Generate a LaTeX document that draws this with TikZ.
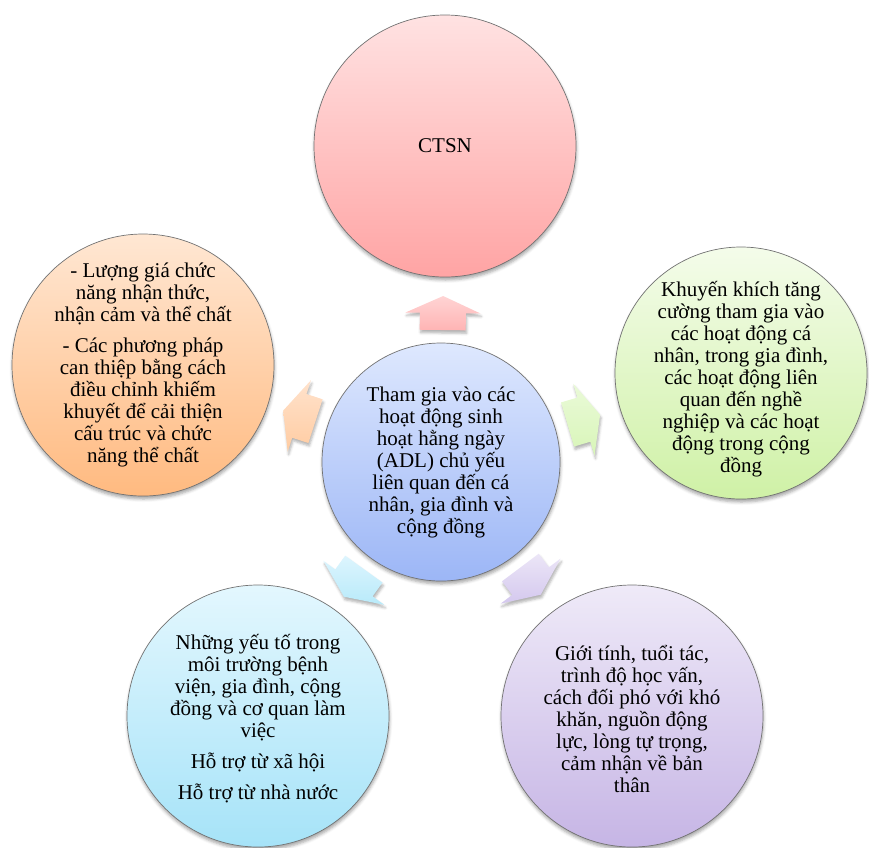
\documentclass[tikz,border=0pt]{standalone}
\usepackage{fontspec}
\setmainfont{Liberation Serif}
\usetikzlibrary{calc,shadows.blur}

% bubble fills (top / bottom of each vertical gradient)
\definecolor{pinkT}{HTML}{FFE2E2}\definecolor{pinkB}{HTML}{FFA4A4}
\definecolor{blueT}{HTML}{DEE8FE}\definecolor{blueB}{HTML}{9CB6F6}
\definecolor{greenT}{HTML}{F4FCEA}\definecolor{greenB}{HTML}{CFF1A6}
\definecolor{violetT}{HTML}{EFEAF8}\definecolor{violetB}{HTML}{C6B5E5}
\definecolor{cyanT}{HTML}{E3F7FE}\definecolor{cyanB}{HTML}{A6E3F8}
\definecolor{orangeT}{HTML}{FFE7D3}\definecolor{orangeB}{HTML}{FFBA80}
% block arrow fills
\definecolor{pinkAT}{HTML}{FFD4D4}\definecolor{pinkAB}{HTML}{FFB4B4}
\definecolor{greenAT}{HTML}{EAFAD8}\definecolor{greenAB}{HTML}{D8F5B8}
\definecolor{violetAT}{HTML}{ECE6F7}\definecolor{violetAB}{HTML}{D4C8EE}
\definecolor{cyanAT}{HTML}{DDF5FE}\definecolor{cyanAB}{HTML}{B8EAFA}
\definecolor{orangeAT}{HTML}{FFE2CC}\definecolor{orangeAB}{HTML}{FFCCA2}

\tikzset{
  bubble/.style n args={3}{circle, minimum size=#1, inner sep=0pt,
    draw=black!55, line width=0.7pt, top color=#2, bottom color=#3,
    blur shadow={shadow xshift=0.5pt, shadow yshift=-3pt,
                 shadow blur radius=3pt, shadow opacity=35}},
  txt/.style={align=center, inner sep=0pt,
    font=\fontsize{21}{22}\selectfont},
  blockarrow/.style 2 args={top color=#1, bottom color=#2,
    blur shadow={shadow xshift=1pt, shadow yshift=-3pt,
                 shadow blur radius=2.5pt, shadow opacity=30}}
}

% outward block arrow from #1 toward #2, colours #3/#4
\newcommand\radarrow[4]{%
  \path[blockarrow={#3}{#4}]
    let \p1=($(#2)-(#1)$), \n1={atan2(\y1,\x1)} in
    ($(#1)+(\n1:132pt)+(\n1+90:23pt)$) --
    ($(#1)+(\n1:149pt)+(\n1+90:23pt)$) --
    ($(#1)+(\n1:149pt)+(\n1+90:37.5pt)$) --
    ($(#1)+(\n1:166pt)$) --
    ($(#1)+(\n1:149pt)+(\n1-90:37.5pt)$) --
    ($(#1)+(\n1:149pt)+(\n1-90:23pt)$) --
    ($(#1)+(\n1:132pt)+(\n1-90:23pt)$) -- cycle;}

\begin{document}
\begin{tikzpicture}[x=1pt, y=-1pt]
\useasboundingbox (0,0) rectangle (869,847);

% circles
\node[bubble={262pt}{pinkT}{pinkB}]     (top)  at (445,146) {};
\node[bubble={238pt}{blueT}{blueB}]     (hub)  at (441,462) {};
\node[bubble={252pt}{greenT}{greenB}]   (rgt)  at (741,373) {};
\node[bubble={262pt}{violetT}{violetB}] (brt)  at (632,716) {};
\node[bubble={262pt}{cyanT}{cyanB}]     (blf)  at (258,716) {};
\node[bubble={262pt}{orangeT}{orangeB}] (lft)  at (143,365) {};

% arrows from the hub out to each circle
\radarrow{hub}{top}{pinkAT}{pinkAB}
\radarrow{hub}{rgt}{greenAT}{greenAB}
\radarrow{hub}{brt}{violetAT}{violetAB}
\radarrow{hub}{blf}{cyanAT}{cyanAB}
\radarrow{hub}{lft}{orangeAT}{orangeAB}

% texts
\node[txt] (top-t) at (top) {CTSN};
\node[txt] (hub-t) at (hub) {Tham gia vào các\\ hoạt động sinh\\ hoạt hằng ngày\\
  (ADL) chủ yếu\\ liên quan đến cá\\ nhân, gia đình và\\ cộng đồng};
\node[txt] (rgt-t) at ($(rgt)+(0,6)$) {Khuyến khích tăng\\ cường tham gia vào\\
  các hoạt động cá\\ nhân, trong gia đình,\\ các hoạt động liên\\
  quan đến nghề\\ nghiệp và các hoạt\\ động trong cộng\\ đồng};
\node[txt] (brt-t) at ($(brt)+(0,3)$) {Giới tính, tuổi tác,\\ trình độ học vấn,\\
  cách đối phó với khó\\ khăn, nguồn động\\ lực, lòng tự trọng,\\
  cảm nhận về bản\\ thân};
\node[txt] (blf-t) at ($(blf)+(0,3)$) {Những yếu tố trong\\ môi trường bệnh\\
  viện, gia đình, cộng\\ đồng và cơ quan làm\\ việc\\[9pt]
  Hỗ trợ từ xã hội\\[9pt] Hỗ trợ từ nhà nước};
\node[txt] (lft-t) at (lft) {- Lượng giá chức\\ năng nhận thức,\\
  nhận cảm và thể chất\\[9pt] - Các phương pháp\\ can thiệp bằng cách\\
  điều chỉnh khiếm\\ khuyết để cải thiện\\ cấu trúc và chức\\ năng thể chất};
\end{tikzpicture}
\end{document}
